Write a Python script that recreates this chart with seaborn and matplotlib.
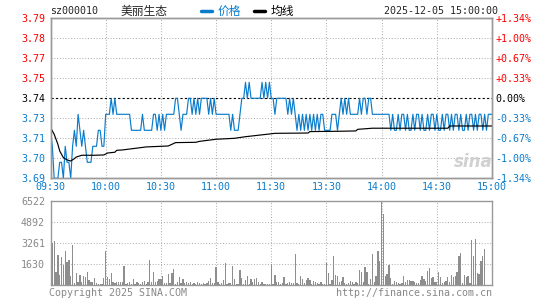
import numpy as np
import pandas as pd
import seaborn as sns
import matplotlib.pyplot as plt
from matplotlib.lines import Line2D

# ---- data ----
prev_close = 3.74
code = "sz000010"
name = "美丽生态"
stamp = "2025-12-05 15:00:00"

# one price per minute, 09:30 .. 15:00 (241 points)
price = [
    3.72, 3.71, 3.69, 3.69, 3.69, 3.70, 3.70, 3.69, 3.71, 3.70,
    3.70, 3.69, 3.71, 3.72, 3.71, 3.73, 3.72, 3.71, 3.72, 3.71,
    3.70, 3.70, 3.70, 3.71, 3.71, 3.71, 3.72, 3.72, 3.71, 3.71,
    3.73, 3.73, 3.73, 3.74, 3.73, 3.74, 3.73, 3.73, 3.73, 3.73,
    3.73, 3.73, 3.73, 3.73, 3.72, 3.72, 3.72, 3.72, 3.72, 3.72,
    3.73, 3.72, 3.72, 3.72, 3.72, 3.72, 3.73, 3.73, 3.72, 3.73,
    3.72, 3.73, 3.72, 3.73, 3.73, 3.73, 3.73, 3.73, 3.74, 3.74,
    3.73, 3.72, 3.73, 3.73, 3.73, 3.74, 3.74, 3.73, 3.74, 3.73,
    3.74, 3.73, 3.74, 3.74, 3.74, 3.74, 3.73, 3.74, 3.73, 3.74,
    3.73, 3.73, 3.73, 3.73, 3.73, 3.73, 3.73, 3.73, 3.72, 3.73,
    3.72, 3.72, 3.72, 3.73, 3.74, 3.74, 3.75, 3.74, 3.75, 3.74,
    3.74, 3.74, 3.74, 3.74, 3.74, 3.75, 3.74, 3.75, 3.74, 3.75,
    3.74, 3.74, 3.73, 3.74, 3.74, 3.74, 3.74, 3.74, 3.74, 3.73,
    3.74, 3.73, 3.74, 3.73, 3.72, 3.73, 3.72, 3.73, 3.72, 3.73,
    3.72, 3.73, 3.72, 3.73, 3.72, 3.73, 3.72, 3.73, 3.73, 3.72,
    3.72, 3.72, 3.72, 3.73, 3.73, 3.73, 3.72, 3.73, 3.74, 3.73,
    3.74, 3.73, 3.74, 3.73, 3.73, 3.73, 3.73, 3.73, 3.74, 3.73,
    3.74, 3.74, 3.73, 3.74, 3.74, 3.73, 3.73, 3.73, 3.73, 3.73,
    3.73, 3.73, 3.73, 3.73, 3.73, 3.72, 3.73, 3.72, 3.72, 3.73,
    3.72, 3.73, 3.73, 3.72, 3.73, 3.72, 3.72, 3.73, 3.72, 3.73,
    3.73, 3.72, 3.73, 3.72, 3.72, 3.73, 3.72, 3.73, 3.73, 3.72,
    3.73, 3.72, 3.72, 3.73, 3.72, 3.73, 3.73, 3.72, 3.73, 3.72,
    3.73, 3.73, 3.72, 3.73, 3.72, 3.72, 3.73, 3.72, 3.73, 3.73,
    3.72, 3.73, 3.72, 3.73, 3.73, 3.72, 3.73, 3.72, 3.73, 3.73,
    3.73,
]

# average line, read at its break points (minute, value)
avg_minute = [0, 2, 4, 5, 7, 9, 11, 13, 14, 17, 24, 29, 31, 35, 36, 39, 52, 64, 68,
              79, 81, 90, 100, 106, 116, 122, 140, 141, 157, 166, 167, 175, 216, 217, 240]
avg_value = [3.7217, 3.7175, 3.7113, 3.7071, 3.7029, 3.7015, 3.7008, 3.7023, 3.7033,
             3.7044, 3.7044, 3.7046, 3.7058, 3.7063, 3.7075, 3.7077, 3.7096, 3.7102,
             3.7123, 3.7125, 3.7131, 3.7144, 3.7150, 3.7160, 3.7173, 3.7181, 3.7183,
             3.7192, 3.7194, 3.7196, 3.7206, 3.7213, 3.7213, 3.7227, 3.7227]

# volume per minute (241 bars)
volume = [
    490, 3300, 3390, 1040, 2360, 800, 2180, 1580, 2620, 1840,
    1970, 730, 3130, 160, 990, 230, 800, 290, 730, 670,
    1060, 410, 230, 290, 600, 160, 100, 100, 100, 600,
    2620, 670, 490, 960, 230, 160, 290, 230, 230, 230,
    1500, 100, 160, 230, 100, 490, 100, 230, 160, 100,
    230, 340, 100, 230, 1970, 230, 1060, 230, 340, 490,
    500, 730, 160, 160, 880, 160, 960, 1270, 100, 230,
    670, 160, 490, 160, 230, 160, 230, 80, 160, 80,
    290, 160, 80, 160, 80, 160, 340, 550, 200, 160,
    1450, 230, 80, 160, 410, 1710, 80, 160, 200, 1500,
    490, 80, 80, 1190, 550, 80, 410, 730, 80, 490,
    230, 490, 550, 230, 80, 230, 80, 80, 100, 100,
    1630, 80, 800, 230, 290, 80, 160, 670, 80, 160,
    230, 160, 160, 2430, 160, 80, 730, 490, 160, 410,
    550, 410, 80, 340, 230, 160, 80, 230, 100, 100,
    1710, 930, 80, 410, 2280, 800, 730, 230, 340, 670,
    160, 80, 160, 340, 230, 80, 230, 160, 1190, 1060,
    230, 1450, 1060, 80, 490, 2430, 230, 730, 2620, 1890,
    6522, 5540, 730, 880, 1580, 550, 80, 340, 230, 160,
    80, 160, 730, 230, 410, 410, 340, 340, 230, 160,
    160, 410, 730, 490, 340, 1110, 1370, 550, 620, 230,
    230, 1010, 670, 160, 230, 340, 670, 230, 800, 670,
    730, 1010, 2230, 2490, 160, 800, 670, 730, 160, 3520,
    2280, 3600, 930, 880, 1890, 2230, 2820, 0, 0, 0,
    0,
]

time_ticks = [0, 30, 60, 90, 120, 150, 180, 210, 240]
time_labels = ["09:30", "10:00", "10:30", "11:00", "11:30", "13:30", "14:00", "14:30", "15:00"]
price_ticks = [3.69, 3.7025, 3.715, 3.7275, 3.74, 3.7525, 3.765, 3.7775, 3.79]
price_labels = ["3.69", "3.70", "3.71", "3.73", "3.74", "3.75", "3.77", "3.78", "3.79"]
pct_labels = ["-1.34%", "-1.00%", "-0.67%", "-0.33%", "0.00%",
              "+0.33%", "+0.67%", "+1.00%", "+1.34%"]
vol_ticks = [1630, 3261, 4892, 6522]
vol_labels = ["1630", "3261", "4892", "6522"]

BLUE = "#0a7ccc"
RED = "#ff0000"
GRID = "#aaaaaa"
FRAME = "#999999"

sns.set_style("white")
plt.rcParams['font.family'] = ['DejaVu Sans Mono', 'Noto Sans CJK SC']

W, H = 545, 300
fig = plt.figure(figsize=(W / 100, H / 100), dpi=100)
L, R = 50.5, 492.0
ax1 = fig.add_axes([L / W, 1 - 178.3 / H, (R - L) / W, 160 / H])
ax2 = fig.add_axes([L / W, 1 - 285.3 / H, (R - L) / W, 84.3 / H])

df = pd.DataFrame({"minute": np.arange(len(price)), "price": price, "volume": volume})
avg = pd.DataFrame({"minute": avg_minute, "avg": avg_value})

dots = (0, (0.9, 1.8))

# ---- price panel ----
for t in time_ticks[1:-1]:
    ax1.axvline(t, color=GRID, lw=0.75, ls=dots, zorder=1)
for p in price_ticks[1:-1]:
    if p != prev_close:
        ax1.axhline(p, color=GRID, lw=0.75, ls=dots, zorder=1)
ax1.axhline(prev_close, color="black", lw=0.8, ls=(0, (2, 2)), zorder=1)

sns.lineplot(data=df, x="minute", y="price", ax=ax1, color=BLUE, lw=0.85, zorder=3)
sns.lineplot(data=avg, x="minute", y="avg", ax=ax1, color="black", lw=0.85, zorder=4)

ax1.set_xlim(0, 240)
ax1.set_ylim(3.69, 3.79)
ax1.set_xticks(time_ticks)
ax1.set_xticklabels(time_labels)
ax1.set_yticks(price_ticks)
ax1.set_yticklabels(price_labels)
ax1.set_xlabel("")
ax1.set_ylabel("")
ax1.tick_params(axis="y", length=0, pad=4, labelsize=7.2)
ax1.tick_params(axis="x", length=0, pad=2.5, labelsize=7.2, labelcolor=BLUE)
for lab, p in zip(ax1.get_yticklabels(), price_ticks):
    lab.set_color(RED if p > prev_close else ("black" if p == prev_close else BLUE))

axr = ax1.twinx()
axr.set_ylim(3.69, 3.79)
axr.set_yticks(price_ticks)
axr.set_yticklabels(pct_labels)
axr.tick_params(axis="y", length=0, pad=2.5, labelsize=7.2)
for lab, p in zip(axr.get_yticklabels(), price_ticks):
    lab.set_color(RED if p > prev_close else ("black" if p == prev_close else BLUE))

for a in (ax1, axr):
    for s in a.spines.values():
        s.set_color(FRAME)
        s.set_linewidth(1.0)

# ---- volume panel ----
for t in time_ticks[1:-1]:
    ax2.axvline(t, color=GRID, lw=0.75, ls=dots, zorder=1)
for v in vol_ticks[:-1]:
    ax2.axhline(v, color=GRID, lw=0.75, ls=dots, zorder=1)

sns.barplot(data=df, x="minute", y="volume", ax=ax2, native_scale=True,
            color="#8e8e8e", saturation=1, width=0.7, errorbar=None,
            linewidth=0, zorder=3)
ax2.set_xlim(0, 240)
ax2.set_ylim(0, 6522)
ax2.set_xticks([])
ax2.set_yticks(vol_ticks)
ax2.set_yticklabels(vol_labels)
ax2.set_xlabel("")
ax2.set_ylabel("")
ax2.tick_params(axis="y", length=0, pad=4, labelsize=7.2, labelcolor="#888888")
for s in ax2.spines.values():
    s.set_color(FRAME)
    s.set_linewidth(1.0)

# ---- header / footer ----
def fx(x):
    return x / W

def fy(y):
    return 1 - y / H

fig.text(fx(50.5), fy(11.5), code, size=7.2, va="center", ha="left")
fig.text(fx(121), fy(11.5), name, size=8.5, va="center", ha="left")
fig.text(fx(498), fy(11.5), stamp, size=7.2, va="center", ha="right")
ax1.legend(handles=[Line2D([], [], color=BLUE, lw=2.5), Line2D([], [], color="black", lw=2.5)],
           labels=["价格", "均线"], ncol=2, frameon=False, loc="center left",
           bbox_to_anchor=(fx(201), fy(11.5)), bbox_transform=fig.transFigure,
           handlelength=0.9, handletextpad=0.5, columnspacing=1.1, fontsize=8.5,
           labelcolor=[BLUE, "black"], borderpad=0, borderaxespad=0)

fig.text(fx(49), fy(293), "Copyright 2025 SINA.COM", size=7.2, color="#888888",
         va="center", ha="left")
fig.text(fx(492), fy(293), "http://finance.sina.com.cn", size=7.2, color="#888888",
         va="center", ha="right")
fig.text(fx(473), fy(162), "sina", size=12, color="#cccccc", style="italic",
         weight="bold", family="DejaVu Sans", va="center", ha="center", alpha=0.9)

fig.savefig("out.png", dpi=100)
